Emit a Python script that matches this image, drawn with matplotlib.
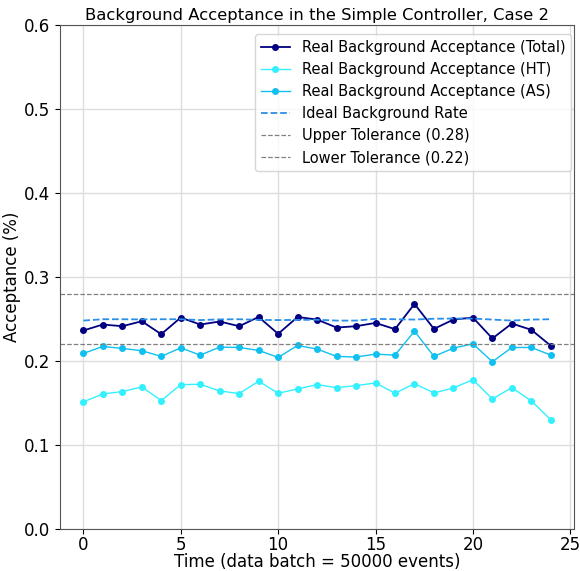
import numpy as np
import matplotlib
matplotlib.use("Agg")
import matplotlib.pyplot as plt


# =========================
# 데이터
# =========================
batches = np.arange(25)

total_acc = [0.2366, 0.2437, 0.2417, 0.2476, 0.2322, 0.2520, 0.2437, 0.2473, 0.2417,
             0.2527, 0.2326, 0.2527, 0.2496, 0.2401, 0.2417, 0.2456, 0.2382, 0.2682,
             0.2385, 0.2496, 0.2520, 0.2271, 0.2449, 0.2374, 0.2184]

ht_acc = [0.1517, 0.1611, 0.1639, 0.1694, 0.1532, 0.1722, 0.1726, 0.1647, 0.1615,
          0.1762, 0.1619, 0.1671, 0.1722, 0.1686, 0.1710, 0.1742, 0.1619, 0.1734,
          0.1623, 0.1682, 0.1781, 0.1552, 0.1686, 0.1528, 0.1303]

as_acc = [0.2093, 0.2176, 0.2153, 0.2125, 0.2058, 0.2160, 0.2073, 0.2168, 0.2164,
          0.2129, 0.2046, 0.2188, 0.2145, 0.2058, 0.2050, 0.2085, 0.2073, 0.2358,
          0.2058, 0.2156, 0.2208, 0.1994, 0.2164, 0.2164, 0.2073]

ideal_rate = [0.2484, 0.2500, 0.2500, 0.2498, 0.2500, 0.2500, 0.2490, 0.2498, 0.2500,
              0.2492, 0.2490, 0.2492, 0.2494, 0.2484, 0.2484, 0.2504, 0.2500, 0.2496,
              0.2506, 0.2508, 0.2508, 0.2496, 0.2484, 0.2496, 0.2500]

upper_tol = 0.28
lower_tol = 0.22


# =========================
# 그래프
# =========================
plt.figure(figsize=(5.8, 5.71), dpi=100)

plt.plot(batches, total_acc, color='navy', marker='o', markersize=4,
         linewidth=1.3, label='Real Background Acceptance (Total)')
plt.plot(batches, ht_acc, color='#33f0ff', marker='o', markersize=4,
         linewidth=1.0, label='Real Background Acceptance (HT)')
plt.plot(batches, as_acc, color='#10c0f0', marker='o', markersize=4,
         linewidth=1.0, label='Real Background Acceptance (AS)')
plt.plot(batches, ideal_rate, color='#2a8fe8', linestyle='--',
         linewidth=1.3, label='Ideal Background Rate')

plt.axhline(upper_tol, color='gray', linestyle='--', linewidth=0.9,
            label='Upper Tolerance (0.28)')
plt.axhline(lower_tol, color='gray', linestyle='--', linewidth=0.9,
            label='Lower Tolerance (0.22)')

plt.ylim(0, 0.6)
plt.xticks([0, 5, 10, 15, 20, 25], fontsize=12)
plt.yticks(fontsize=12)

ax = plt.gca()
ax.tick_params(axis='x', pad=1.5)
for s in ax.spines.values():
    s.set_color('#555555')

plt.title("Background Acceptance in the Simple Controller, Case 2", fontsize=11.8, pad=4)
plt.xlabel("Time (data batch = 50000 events)", fontsize=12, labelpad=-1)
plt.ylabel("Acceptance (%)", fontsize=12, labelpad=2)

plt.legend(loc='upper right', bbox_to_anchor=(0.994, 0.982), borderaxespad=0,
           fontsize=10.5, handlelength=2.0, labelspacing=0.48)
plt.grid(color='#dddddd', linewidth=1)

plt.subplots_adjust(left=0.1034, right=0.990, top=0.956, bottom=0.073)
plt.savefig("out.png", dpi=100)
